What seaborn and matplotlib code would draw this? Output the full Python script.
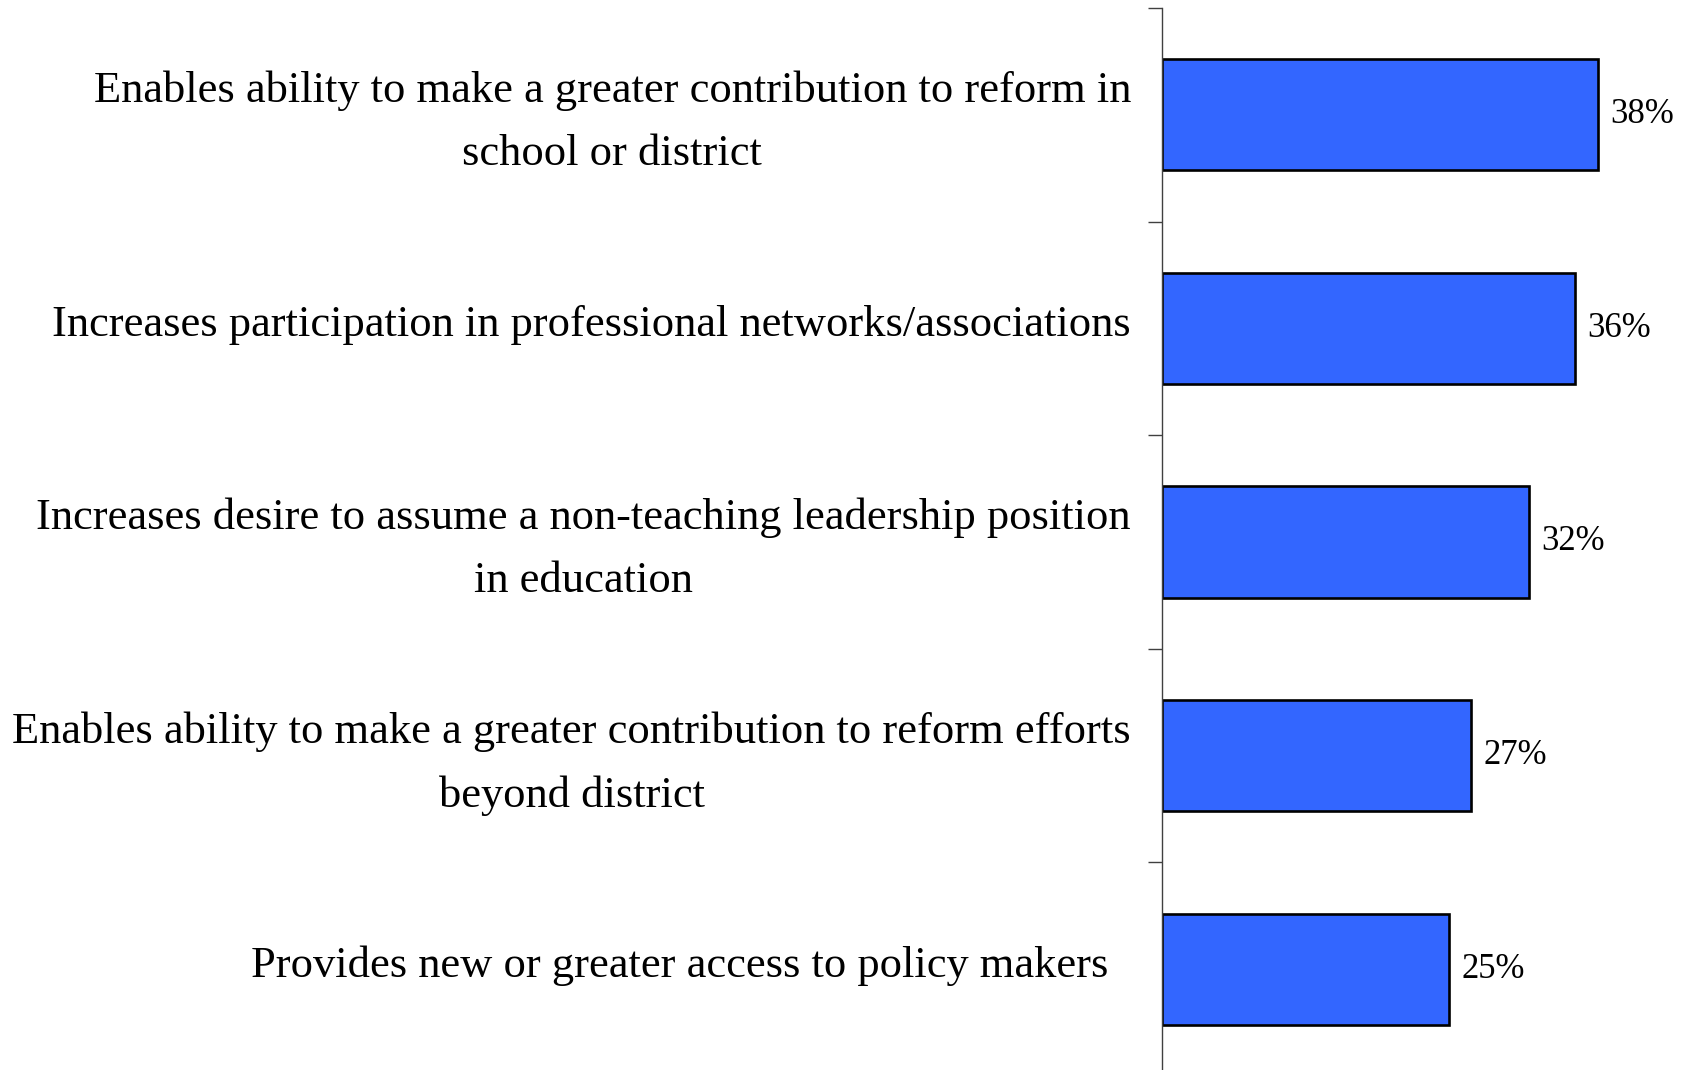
import matplotlib
matplotlib.use("Agg")
import matplotlib.pyplot as plt
import matplotlib.transforms as mtransforms
import seaborn as sns
import pandas as pd
import numpy as np

categories = [
    "Enables ability to make a greater contribution to reform in\nschool or district",
    "Increases participation in professional networks/associations",
    "Increases desire to assume a non-teaching leadership position\nin education",
    "Enables ability to make a greater contribution to reform efforts\nbeyond district",
    "Provides new or greater access to policy makers  ",
]
values = [38, 36, 32, 27, 25]
value_labels = ["38%", "36%", "32%", "27%", "25%"]

sns.set_theme(style="white")
plt.rcParams["font.family"] = ["Liberation Serif", "DejaVu Serif"]
plt.rcParams["text.color"] = "black"
plt.rcParams["ytick.labelcolor"] = "black"

df = pd.DataFrame({"item": categories, "pct": values})

W, H = 1685, 1070
fig = plt.figure(figsize=(W / 100, H / 100), dpi=100)
ax_left = 1161.5 / W
ax = fig.add_axes([ax_left, -6 / H, 1 - ax_left, 1068 / H])

sns.barplot(data=df, y="item", x="pct", orient="h", color="#3366FF",
            saturation=1, width=0.52, edgecolor="black", linewidth=1.9, ax=ax)

ax.set_xlim(0, (W - 1161.5) / 11.48)
ax.set_ylim(len(categories) - 0.5, -0.5)
ax.set_xlabel("")
ax.set_ylabel("")
ax.set_xticks([])

# category labels on major ticks (no tick marks), boundary marks on minor ticks
ax.set_yticks(range(len(categories)))
ax.set_yticklabels(categories, fontsize=32, multialignment="center",
                   linespacing=1.74, color="black")
ax.tick_params(axis="y", which="major", length=0, pad=22)
ax.set_yticks(np.arange(-0.5, len(categories), 1.0), minor=True)
ax.tick_params(axis="y", which="minor", length=10, width=1.0, color="#404040",
               direction="out", left=True)

# nudge the category labels slightly upward
lift = mtransforms.ScaledTranslation(0, 6 / 72, fig.dpi_scale_trans)
for lbl in ax.get_yticklabels():
    lbl.set_transform(lbl.get_transform() + lift)

for side in ["top", "right", "bottom"]:
    ax.spines[side].set_visible(False)
ax.spines["left"].set_color("#404040")
ax.spines["left"].set_linewidth(1.0)

for i, (v, lab) in enumerate(zip(values, value_labels)):
    ax.annotate(lab, xy=(v, i), xytext=(9, 0), textcoords="offset points",
                va="center", ha="left", fontsize=25, color="black")

fig.savefig("out.png", dpi=100)
